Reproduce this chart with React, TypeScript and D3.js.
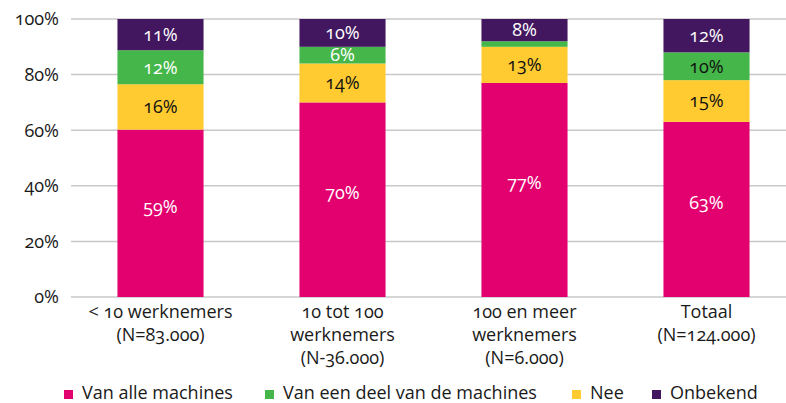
import React from "react";
import * as d3 from "d3";

const categories = [
  ["< 10 werknemers", "(N=83.000)"],
  ["10 tot 100", "werknemers", "(N-36.000)"],
  ["100 en meer", "werknemers", "(N=6.000)"],
  ["Totaal", "(N=124.000)"],
];
const seriesNames = ["Van alle machines", "Van een deel van de machines", "Nee", "Onbekend"];
const alleMachines = [59, 70, 77, 63];
const deelMachines = [12, 6, 2, 10];
const nee = [16, 14, 13, 15];
const onbekend = [11, 10, 8, 12];
const yTicks = [0, 20, 40, 60, 80, 100];

const colors = ["#E3006F", "#45B649", "#FFCB31", "#42175F"];
const labelColors = [
  ["#fff", "#fff", "#fff", "#fff"],
  ["#fff", "#fff", "#fff", "#111"],
  ["#111", "#111", "#111", "#111"],
  ["#fff", "#fff", "#fff", "#fff"],
];

const W = 786, H = 403;
const FONT = "'Open Sans', 'Noto Sans', sans-serif";
const FS = 18;

export default function App() {
  const stackOrder = [0, 2, 1, 3];
  const seriesVals = [alleMachines, deelMachines, nee, onbekend];
  const rows = categories.map((c, i) => {
    const o: any = { i };
    seriesVals.forEach((s, k) => (o["s" + k] = s[i]));
    return o;
  });
  const stack = d3
    .stack()
    .keys(stackOrder.map((k) => "s" + k))
    .offset(d3.stackOffsetExpand);
  const stacked = stack(rows);

  const x = d3
    .scaleBand<number>()
    .domain(categories.map((_, i) => i))
    .range([69.5, 797.5])
    .paddingInner(0.527)
    .paddingOuter(0.2635);
  const y = d3.scaleLinear().domain([0, 1]).range([297, 19]);

  const legendX = [64, 265, 572, 652];

  return (
    <svg
      width={W}
      height={H}
      style={{ position: "absolute", left: 0, top: 0, fontFamily: FONT, fontVariantNumeric: "oldstyle-nums" }}
    >
      <rect width={W} height={H} fill="#fff" />
      {yTicks.map((t) => (
        <g key={t}>
          <line x1={71} x2={W} y1={y(t / 100)} y2={y(t / 100)} stroke="#C8C8C8" strokeWidth={1.5} />
          <text x={59} y={y(t / 100)} dy="0.35em" textAnchor="end" fontSize={FS} fill="#1a1a1a">
            {t}%
          </text>
        </g>
      ))}
      {stacked.map((layer, li) => {
        const sIdx = stackOrder[li];
        return (
          <g key={li}>
            {layer.map((d, ci) => {
              const x0 = x(ci)!;
              const y0 = y(d[1]);
              const y1 = y(d[0]);
              const v = seriesVals[sIdx][ci];
              return (
                <g key={ci}>
                  <rect x={x0} y={y0} width={x.bandwidth()} height={y1 - y0} fill={colors[sIdx]} />
                  {v >= 4 && (
                    <text
                      x={x0 + x.bandwidth() / 2}
                      y={(y0 + y1) / 2 - (sIdx === 0 ? 7 : 0)}
                      dy="0.35em"
                      textAnchor="middle"
                      fontSize={FS}
                      fill={labelColors[sIdx][ci]}
                    >
                      {v}%
                    </text>
                  )}
                </g>
              );
            })}
          </g>
        );
      })}
      {categories.map((lines, ci) => (
        <text
          key={ci}
          x={x(ci)! + x.bandwidth() / 2}
          y={318}
          textAnchor="middle"
          fontSize={FS}
          fill="#1a1a1a"
        >
          {lines.map((l, li) => (
            <tspan key={li} x={x(ci)! + x.bandwidth() / 2} dy={li === 0 ? 0 : 23}>
              {l}
            </tspan>
          ))}
        </text>
      ))}
      {seriesNames.map((n, k) => (
        <g key={k} transform={`translate(${legendX[k]},0)`}>
          <rect x={0} y={390} width={9} height={9} fill={colors[k]} />
          <text x={18} y={393} dy="0.35em" fontSize={FS} fill="#1a1a1a">
            {n}
          </text>
        </g>
      ))}
    </svg>
  );
}
